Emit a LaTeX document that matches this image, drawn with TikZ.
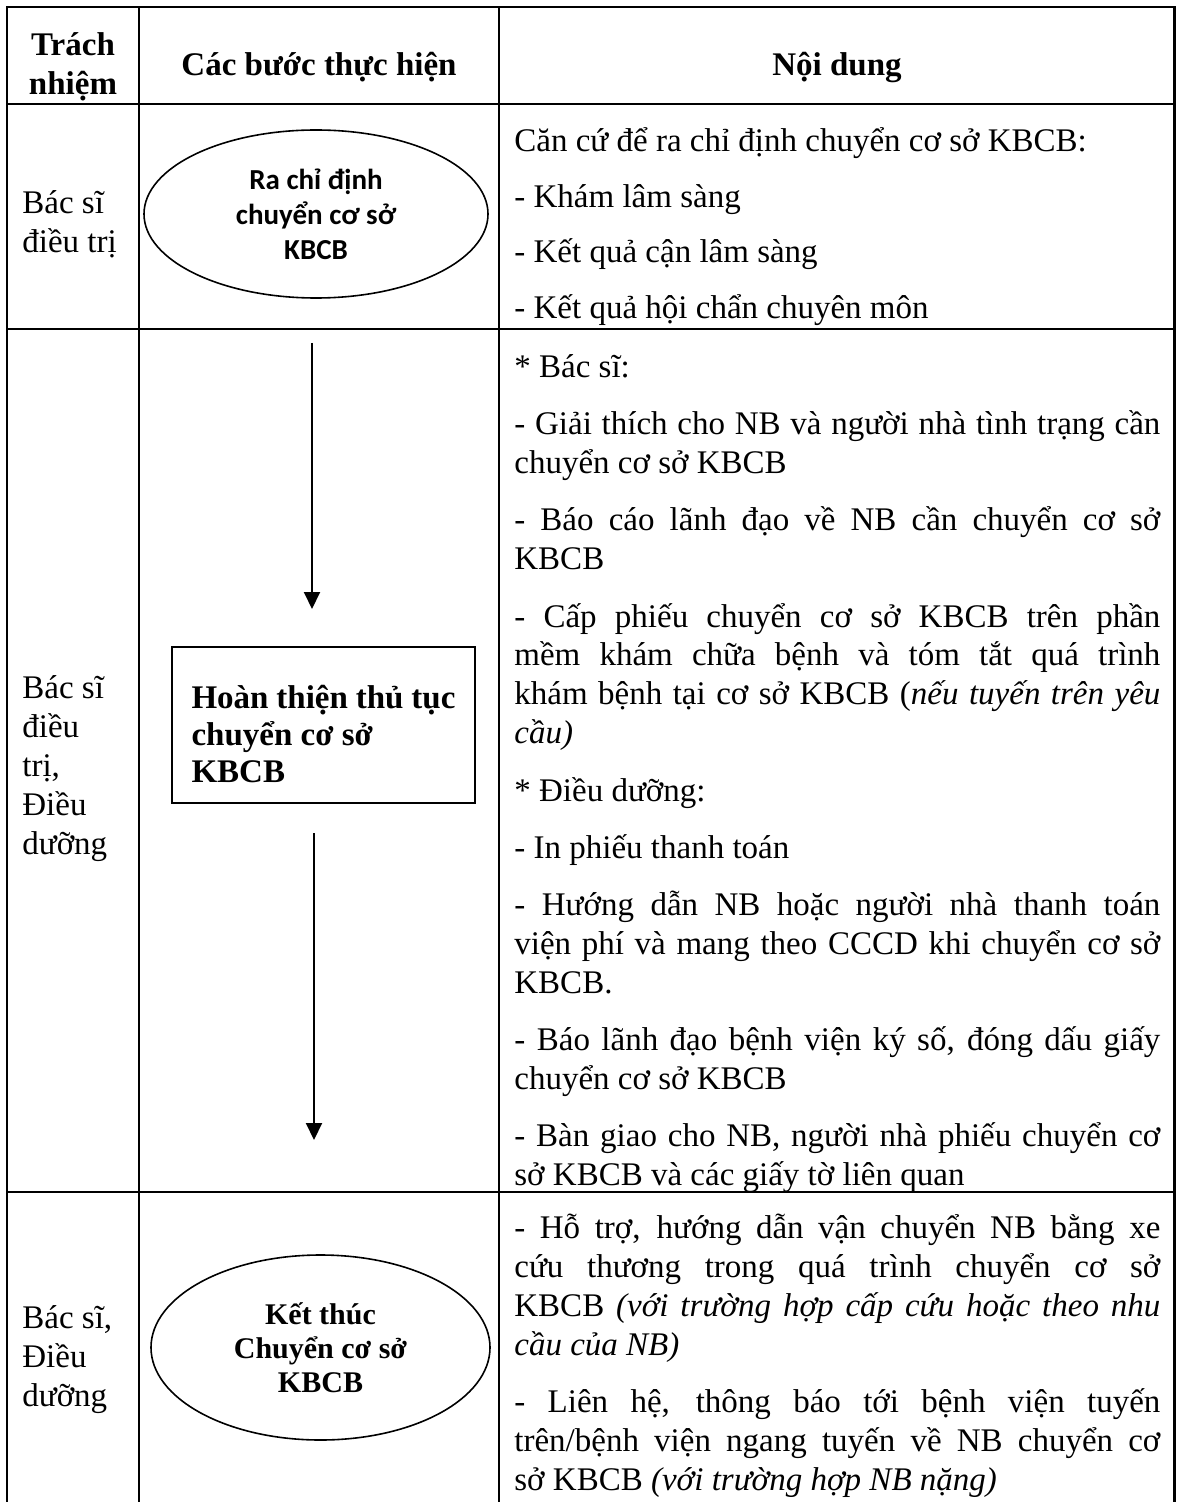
\documentclass[tikz,border=0pt]{standalone}
\usepackage{fontspec}
\setmainfont{Liberation Serif}
\newfontfamily\calibri{Carlito}
\usetikzlibrary{positioning}
\usetikzlibrary{shapes}
\usetikzlibrary{arrows.meta}
\hyphenpenalty=10000
\exhyphenpenalty=10000
\tolerance=10000
\hbadness=10000

\newcommand{\cellbox}[2]{\parbox[t]{#1}{\fontsize{16.5pt}{19.5pt}\selectfont\setlength{\parskip}{9pt}#2}}

\begin{document}
\begin{tikzpicture}[x=0.5pt, y=-0.5pt, every node/.style={inner sep=0pt},
            txt/.style={anchor=base west},
            head/.style={anchor=base, font=\bfseries\fontsize{16.5pt}{19.5pt}\selectfont},
            ellip/.style={ellipse, draw, line width=0.8pt, align=center},
            stepbox/.style={rectangle, draw, line width=1pt},
            grid/.style={line width=1.35pt},
            arr/.style={line width=1pt, -{Triangle[width=8pt, length=8.5pt]}}]
            \useasboundingbox (0,0) rectangle (1176,1502);

            \draw[grid] (7,1502) -- (7,7) -- (1174.5,7) -- (1174.5,1502);
            \draw[grid] (139,7) -- (139,1502);
            \draw[grid] (499,7) -- (499,1502);
            \draw[grid] (7,104) -- (1174.5,104);
            \draw[grid] (7,329) -- (1174.5,329);
            \draw[grid] (7,1192) -- (1174.5,1192);

            \node[head] (trachnhiem) at (73,56) {\cellbox{66pt}{\centering\bfseries Trách\\nhiệm}};
            \node[head] (cacbuoc) at (319,76) {Các bước thực hiện};
            \node[head] (noidung) at (837,76) {Nội dung};

            \node[txt] (bs1) at (22,214) {\cellbox{56pt}{Bác sĩ\\điều trị}};
            \node[txt] (bs2) at (22,698) {\cellbox{56pt}{Bác sĩ\\điều\\trị,\\Điều\\dưỡng}};
            \node[txt] (bs3) at (22,1328) {\cellbox{56pt}{Bác sĩ,\\Điều\\dưỡng}};

            \node[ellip, minimum width=172pt, minimum height=84pt, font=\calibri\bfseries\fontsize{14.5pt}{17.5pt}\selectfont] (chidinh) at (316,214) {Ra chỉ định\\chuyển cơ sở\\KBCB};
            \node[stepbox, minimum width=151.5pt, minimum height=78pt] (hoanthien) at (323.5,725) {\parbox{132pt}{\raggedright\bfseries\fontsize{16.5pt}{18.5pt}\selectfont\vspace*{9pt}Hoàn thiện thủ tục\\chuyển cơ sở\\KBCB}};
            \node[ellip, minimum width=169.5pt, minimum height=92.5pt, font=\bfseries\fontsize{15pt}{17pt}\selectfont] (ketthuc) at (320.5,1347.5) {Kết thúc\\Chuyển cơ sở\\KBCB};

            \coordinate (a1) at (312,343);
            \coordinate (b1) at (312,609);
            \coordinate (a2) at (314,833);
            \coordinate (b2) at (314,1140);
            \draw[arr] (a1) -- (b1);
            \draw[arr] (a2) -- (b2);

            \node[txt] (nd1) at (514,152) {\cellbox{323pt}{\setlength{\parskip}{8.2pt}Căn cứ để ra chỉ định chuyển cơ sở KBCB:\par
            - Khám lâm sàng\par
            - Kết quả cận lâm sàng\par
            - Kết quả hội chẩn chuyên môn}};
            \node[txt] (nd2) at (514,378) {\cellbox{323pt}{* Bác sĩ:\par
            - Giải thích cho NB và người nhà tình trạng cần\linebreak chuyển cơ sở KBCB\par
            - Báo cáo lãnh đạo về NB cần chuyển cơ sở\linebreak KBCB\par
            - Cấp phiếu chuyển cơ sở KBCB trên phần\linebreak mềm khám chữa bệnh và tóm tắt quá trình\linebreak khám bệnh tại cơ sở KBCB (\textit{nếu tuyến trên yêu\linebreak cầu)}\par
            * Điều dưỡng:\par
            - In phiếu thanh toán\par
            - Hướng dẫn NB hoặc người nhà thanh toán\linebreak viện phí và mang theo CCCD khi chuyển cơ sở\linebreak KBCB.\par
            - Báo lãnh đạo bệnh viện ký số, đóng dấu giấy\linebreak chuyển cơ sở KBCB\par
            - Bàn giao cho NB, người nhà phiếu chuyển cơ\linebreak sở KBCB và các giấy tờ liên quan}};
            \node[txt] (nd3) at (514,1238) {\cellbox{323pt}{- Hỗ trợ, hướng dẫn vận chuyển NB bằng xe\linebreak cứu thương trong quá trình chuyển cơ sở\linebreak KBCB \textit{(với trường hợp cấp cứu hoặc theo nhu\linebreak cầu của NB)}\par
            - Liên hệ, thông báo tới bệnh viện tuyến\linebreak trên/bệnh viện ngang tuyến về NB chuyển cơ\linebreak sở KBCB \textit{(với trường hợp NB nặng)}}};
        \end{tikzpicture}
\end{document}
